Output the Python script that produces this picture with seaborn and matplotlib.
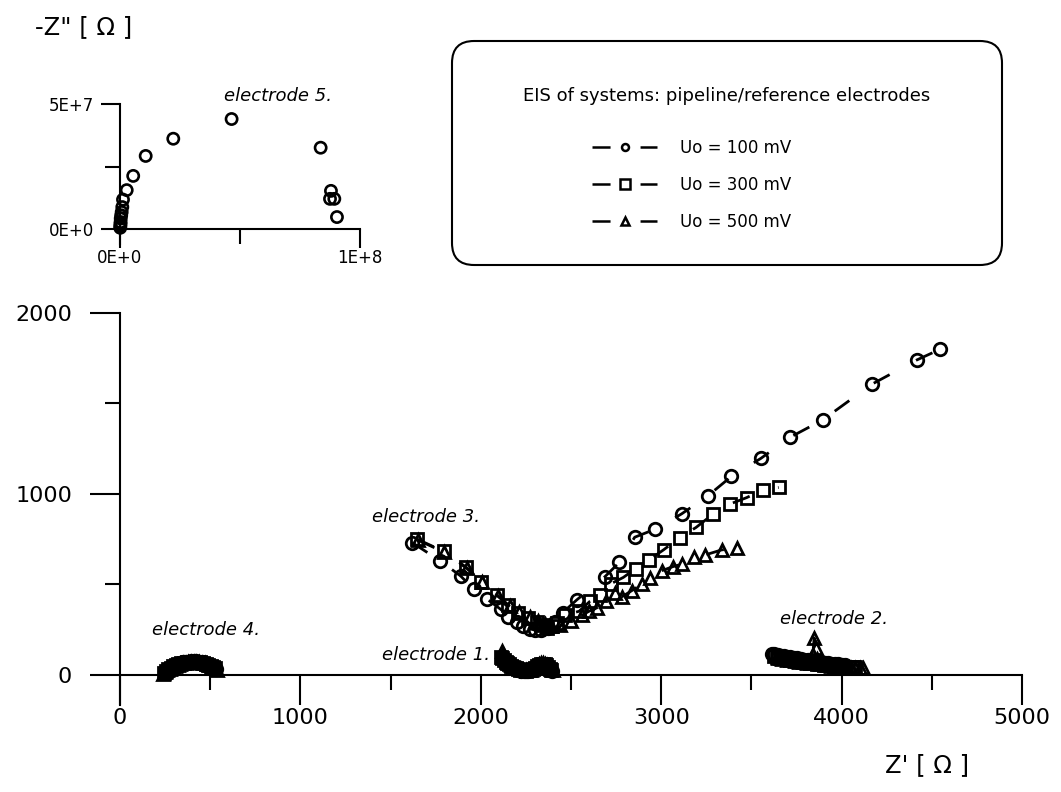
import numpy as np
import pandas as pd
import matplotlib
matplotlib.use("Agg")
import matplotlib.pyplot as plt
from matplotlib.patches import FancyBboxPatch
from matplotlib.lines import Line2D
import seaborn as sns

# ---------------- data ----------------
series_labels = ["Uo = 100 mV", "Uo = 300 mV", "Uo = 500 mV"]
legend_title = "EIS of systems: pipeline/reference electrodes"

# electrode 3
e3_100_re = [1620, 1774, 1888, 1962, 2036, 2110, 2153, 2199, 2232, 2270, 2300, 2335, 2370, 2410, 2454,
             2531, 2688, 2768, 2853, 2968, 3113, 3259, 3389, 3553, 3714, 3895, 4167, 4416, 4545]
e3_100_im = [731, 631, 547, 473, 418, 363, 322, 295, 271, 255, 248, 250, 262, 292, 344,
             414, 543, 622, 761, 806, 890, 990, 1097, 1197, 1313, 1409, 1606, 1740, 1799]
e3_300_re = [1648, 1794, 1918, 2003, 2091, 2151, 2206, 2264, 2310, 2340, 2365, 2395, 2421, 2467, 2545,
             2605, 2663, 2721, 2790, 2859, 2934, 3014, 3102, 3193, 3289, 3380, 3474, 3566, 3651]
e3_300_im = [750, 683, 596, 516, 442, 387, 342, 315, 295, 275, 262, 268, 286, 331, 352,
             407, 440, 504, 539, 588, 637, 692, 759, 815, 890, 944, 980, 1024, 1036]
e3_500_re = [1652, 1798, 1921, 2007, 2093, 2160, 2210, 2270, 2318, 2355, 2390, 2440, 2500, 2560, 2600,
             2646, 2694, 2744, 2784, 2837, 2892, 2938, 3003, 3063, 3113, 3182, 3243, 3335, 3418]
e3_500_im = [745, 678, 590, 512, 436, 380, 348, 318, 300, 280, 268, 275, 300, 330, 352,
             372, 409, 451, 433, 466, 501, 534, 576, 598, 612, 654, 663, 691, 700]

# electrode 1
e1_100_re = [2125, 2133, 2141, 2149, 2158, 2167, 2177, 2188, 2199, 2211, 2224, 2237, 2250,
             2263, 2276, 2288, 2300, 2311, 2322, 2333, 2344, 2355, 2365, 2374, 2383, 2392]
e1_100_im = [85, 77, 69, 61, 54, 47, 41, 36, 31, 27, 24, 22, 21,
             22, 25, 30, 36, 43, 50, 55, 58, 56, 50, 42, 33, 22]
e1_300_re = [2112, 2120, 2129, 2138, 2147, 2157, 2168, 2180, 2193, 2206, 2220, 2234, 2248,
             2262, 2275, 2287, 2299, 2310, 2321, 2332, 2343, 2354, 2364, 2373, 2382, 2390]
e1_300_im = [100, 92, 83, 74, 66, 58, 50, 43, 37, 32, 28, 25, 24,
             25, 28, 33, 40, 47, 54, 60, 63, 60, 54, 45, 35, 25]
e1_500_re = [2118, 2124, 2131, 2139, 2148, 2158, 2169, 2181, 2194, 2208, 2222, 2236, 2250,
             2264, 2277, 2290, 2302, 2313, 2324, 2335, 2346, 2357, 2367, 2377, 2387, 2398]
e1_500_im = [135, 118, 103, 90, 78, 67, 57, 49, 42, 36, 31, 28, 26,
             27, 30, 36, 43, 51, 58, 64, 67, 63, 56, 46, 36, 26]

# electrode 2
e2_100_re = [3612, 3628, 3645, 3662, 3680, 3698, 3716, 3735, 3754, 3773, 3792, 3811,
             3830, 3849, 3868, 3887, 3906, 3925, 3944, 3963, 3982, 4001, 4020]
e2_100_im = [118, 114, 110, 107, 103, 100, 97, 94, 91, 88, 85, 82,
             79, 77, 74, 71, 68, 66, 63, 61, 59, 57, 55]
e2_300_re = [3625, 3642, 3660, 3678, 3696, 3714, 3732, 3751, 3770, 3789, 3808, 3827, 3846,
             3865, 3884, 3903, 3922, 3941, 3960, 3979, 3998, 4017, 4036, 4055, 4072]
e2_300_im = [104, 100, 96, 92, 88, 85, 82, 79, 76, 73, 70, 67, 64,
             62, 59, 57, 55, 53, 51, 49, 47, 46, 44, 43, 42]
e2_500_re = [3650, 3672, 3695, 3718, 3741, 3764, 3787, 3808, 3828, 3840, 3848, 3856, 3866,
             3880, 3898, 3918, 3940, 3962, 3985, 4008, 4031, 4054, 4077, 4100, 4120]
e2_500_im = [92, 88, 84, 80, 76, 72, 69, 66, 64, 110, 205, 150, 90,
             62, 58, 55, 52, 49, 47, 45, 43, 41, 40, 38, 36]

# electrode 4
e4_100_re = [250, 262, 275, 289, 303, 318, 333, 348, 363, 378, 393, 408, 423, 438, 453, 468,
             482, 496, 509, 521, 531]
e4_100_im = [20, 30, 39, 47, 54, 60, 65, 69, 72, 74, 76, 76, 75, 74, 71, 67,
             62, 56, 49, 42, 35]
e4_300_re = [245, 256, 268, 281, 295, 309, 324, 339, 354, 369, 384, 399, 414, 429, 444, 459,
             474, 488, 502, 515, 526]
e4_300_im = [12, 22, 31, 40, 48, 55, 60, 65, 68, 71, 73, 74, 74, 73, 71, 68,
             63, 57, 50, 43, 36]
e4_500_re = [240, 251, 263, 276, 290, 304, 319, 334, 349, 364, 379, 394, 409, 424, 439, 454,
             469, 484, 498, 511, 523, 535]
e4_500_im = [8, 17, 26, 35, 43, 50, 56, 61, 65, 68, 70, 72, 72, 72, 70, 68,
             64, 59, 53, 46, 39, 30]

# electrode 5 (inset, Uo = 100 mV)
e5_re = [0.1e6, 0.15e6, 0.2e6, 0.25e6, 0.3e6, 0.5e6, 0.7e6, 0.96e6, 1.25e6, 2.8e6, 5.5e6, 1.07e7,
         2.22e7, 4.65e7, 8.36e7, 8.79e7, 8.75e7, 8.93e7, 9.04e7]
e5_im = [0.5e6, 1.2e6, 2.0e6, 2.8e6, 4.2e6, 5.5e6, 6.8e6, 8.8e6, 1.18e7, 1.56e7, 2.13e7, 2.93e7,
         3.62e7, 4.41e7, 3.26e7, 1.53e7, 1.21e7, 1.21e7, 4.8e6]

main_xticks = [0, 1000, 2000, 3000, 4000, 5000]
main_xtick_labels = ["0", "1000", "2000", "3000", "4000", "5000"]
main_xminor = [500, 1500, 2500, 3500, 4500]
main_yticks = [0, 1000, 2000]
main_ytick_labels = ["0", "1000", "2000"]
main_yminor = [500, 1500]
inset_xticks = [0, 1e8]
inset_xtick_labels = ["0E+0", "1E+8"]
inset_xminor = [5e7]
inset_yticks = [0, 5e7]
inset_ytick_labels = ["0E+0", "5E+7"]
inset_yminor = [2.5e7]

# ---------------- table ----------------
groups = [
    ("electrode 3", series_labels[0], e3_100_re, e3_100_im),
    ("electrode 3", series_labels[1], e3_300_re, e3_300_im),
    ("electrode 3", series_labels[2], e3_500_re, e3_500_im),
    ("electrode 1", series_labels[0], e1_100_re, e1_100_im),
    ("electrode 1", series_labels[1], e1_300_re, e1_300_im),
    ("electrode 1", series_labels[2], e1_500_re, e1_500_im),
    ("electrode 2", series_labels[0], e2_100_re, e2_100_im),
    ("electrode 2", series_labels[1], e2_300_re, e2_300_im),
    ("electrode 2", series_labels[2], e2_500_re, e2_500_im),
    ("electrode 4", series_labels[0], e4_100_re, e4_100_im),
    ("electrode 4", series_labels[1], e4_300_re, e4_300_im),
    ("electrode 4", series_labels[2], e4_500_re, e4_500_im),
]
frames = []
for el, ser, re_, im_ in groups:
    frames.append(pd.DataFrame({"electrode": el, "series": ser, "re": re_, "im": im_}))
df = pd.concat(frames, ignore_index=True)

# ---------------- style ----------------
sns.set_style("ticks")
plt.rcParams["font.family"] = ["DejaVu Sans"]
plt.rcParams["lines.scale_dashes"] = False
plt.rcParams["axes.edgecolor"] = "black"
plt.rcParams["xtick.color"] = "black"
plt.rcParams["ytick.color"] = "black"
plt.rcParams["text.color"] = "black"

W, H = 1061, 792
fig = plt.figure(figsize=(W / 100, H / 100), dpi=100)
fig.patch.set_facecolor("white")

dash = (13, 21.6)
palette = {s: "black" for s in series_labels}
marker_map = {series_labels[0]: "o", series_labels[1]: "s", series_labels[2]: "^"}
dash_map = {s: dash for s in series_labels}

# ---------------- main axes ----------------
ax = fig.add_axes([120 / W, (H - 705) / H, 902 / W, (705 - 313) / H])
sns.lineplot(data=df, x="re", y="im", hue="series", style="series", units="electrode",
             estimator=None, sort=False, palette=palette, markers=marker_map, dashes=dash_map,
             markersize=9, markeredgewidth=2.0, markerfacecolor="none", markeredgecolor="black",
             linewidth=2.0, legend=False, ax=ax, clip_on=False)
ax.set_xlim(0, 5000)
ax.set_ylim(-166, 2000)
for s in ["top", "right"]:
    ax.spines[s].set_visible(False)
ax.spines["bottom"].set_position(("data", 0))
for s in ["left", "bottom"]:
    ax.spines[s].set_linewidth(1.5)
ax.set_xticks(main_xticks)
ax.set_xticklabels(main_xtick_labels)
ax.set_xticks(main_xminor, minor=True)
ax.set_yticks(main_yticks)
ax.set_yticklabels(main_ytick_labels)
ax.set_yticks(main_yminor, minor=True)
ax.tick_params(which="major", direction="out", length=21.6, width=1.5, labelsize=16)
ax.tick_params(which="minor", direction="out", length=10.8, width=1.5)
ax.tick_params(axis="x", which="major", pad=2)
ax.tick_params(axis="y", which="major", pad=13)
ax.set_xlabel("")
ax.set_ylabel("")

ann_kw = dict(fontsize=13, style="italic", ha="left", va="center")
ax.text(1397, 873, "electrode 3.", **ann_kw)
ax.text(176, 249, "electrode 4.", **ann_kw)
ax.text(1451, 110, "electrode 1.", **ann_kw)
ax.text(3659, 309, "electrode 2.", **ann_kw)

# ---------------- inset ----------------
axin = fig.add_axes([120 / W, (H - 244) / H, 240 / W, (244 - 104.3) / H])
sns.scatterplot(x=e5_re, y=e5_im, marker="o", s=65, facecolor="none", edgecolor="black",
                linewidth=1.9, ax=axin, clip_on=False)
axin.set_xlim(0, 1e8)
axin.set_ylim(-6e6, 5e7)
for s in ["top", "right"]:
    axin.spines[s].set_visible(False)
axin.spines["bottom"].set_position(("data", 0))
for s in ["left", "bottom"]:
    axin.spines[s].set_linewidth(1.5)
axin.set_xticks(inset_xticks)
axin.set_xticklabels(inset_xtick_labels)
axin.set_xticks(inset_xminor, minor=True)
axin.set_yticks(inset_yticks)
axin.set_yticklabels(inset_ytick_labels)
axin.set_yticks(inset_yminor, minor=True)
axin.tick_params(which="major", direction="out", length=13.5, width=1.5, labelsize=12)
axin.tick_params(which="minor", direction="out", length=10.5, width=1.5)
axin.tick_params(axis="x", which="major", pad=1)
axin.tick_params(axis="y", which="major", pad=5)
axin.set_xlabel("")
axin.set_ylabel("")
axin.text(4.33e7, 5.33e7, "electrode 5.", clip_on=False, **ann_kw)

# ---------------- axis titles ----------------
fig.text(35 / W, 1 - 27 / H, '-Z" [ Ω ]', fontsize=17.5, ha="left", va="center")
fig.text(885 / W, 1 - 765 / H, "Z' [ Ω ]", fontsize=17.5, ha="left", va="center")

# ---------------- legend box ----------------
lax = fig.add_axes([0, 0, 1, 1])
lax.set_xlim(0, W)
lax.set_ylim(H, 0)
lax.axis("off")
lax.add_patch(FancyBboxPatch((452, 41), 550, 224, boxstyle="round,pad=0,rounding_size=22",
                             fill=False, edgecolor="black", linewidth=1.5))
lax.text(727, 96, legend_title, fontsize=13, ha="center", va="center")

handles = [Line2D([], [], color="black", lw=1.8, linestyle=(0, dash), marker=m, ms=ms,
                  mew=1.8, mfc="none", mec="black")
           for m, ms in zip(["o", "s", "^"], [5, 6.5, 6])]
fig.legend(handles, series_labels, loc="upper left", bbox_to_anchor=(592 / W, 1 - 139 / H),
           frameon=False, fontsize=12, handlelength=3.9, handletextpad=1.38, labelspacing=1.13,
           borderpad=0, borderaxespad=0, numpoints=1)

fig.savefig("out.png", dpi=100, facecolor="white")
